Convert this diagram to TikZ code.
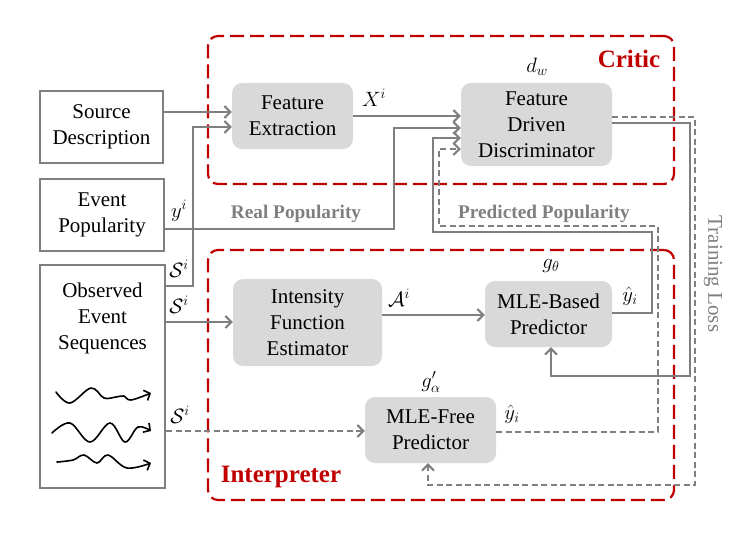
\documentclass[tikz,border=0pt]{standalone}
\usepackage{fontspec}
\setmainfont{Liberation Serif}
\usetikzlibrary{arrows.meta}
\definecolor{critred}{HTML}{C00000}
\definecolor{lgray}{HTML}{7F7F7F}
\definecolor{boxfill}{HTML}{D9D9D9}
\definecolor{labgray}{HTML}{7F7F7F}
\begin{document}
\begin{tikzpicture}[x=1pt,y=-1pt,
  txt/.style={font=\fontsize{21}{26}\selectfont, align=center, inner sep=0pt},
  inbox/.style={txt, draw=lgray, line width=2pt},
  procbox/.style={txt, fill=boxfill, rounded corners=10pt},
  redbox/.style={draw=critred, line width=2.2pt, dash pattern=on 14pt off 6pt, rounded corners=10pt, inner sep=0pt},
  conn/.style={draw=lgray, line width=2pt},
  arr/.style={conn, -{Straight Barb[length=6pt,width=12pt,line width=2pt]}},
  darr/.style={arr, dash pattern=on 6pt off 3.5pt},
  mlab/.style={font=\fontsize{22}{26}\selectfont, inner sep=0pt},
  glab/.style={font=\fontsize{19.3}{22}\selectfont\bfseries, text=labgray, inner sep=0pt},
  rlab/.style={font=\fontsize{25}{28}\selectfont\bfseries, text=critred, inner sep=0pt},
  wave/.style={black, line width=1.6pt, line cap=round, -{Straight Barb[length=5pt,width=11pt,line width=1.6pt]}}
]
\useasboundingbox (0,0) rectangle (751,539);

% group boxes
\node[redbox, minimum width=466pt, minimum height=148pt] (critic) at (441,110) {};
\node[redbox, minimum width=466pt, minimum height=250pt] (interp) at (441,375) {};
\node[rlab] (criticlab) at (629,59) {Critic};
\node[rlab] (interplab) at (281,477) {Interpreter};

% input boxes
\node[inbox, minimum width=123pt, minimum height=72pt] (sd) at (101.5,127) {Source\\Description};
\node[inbox, minimum width=124pt, minimum height=72pt] (ep) at (102,215) {Event\\Popularity};
\node[inbox, minimum width=125pt, minimum height=223pt] (obs) at (102.5,376.5) {};
\node[txt] (obstxt) at (102.5,318) {Observed\\Event\\Sequences};

% processing boxes
\node[procbox, minimum width=121pt, minimum height=66pt] (fe) at (292.5,116) {Feature\\Extraction};
\node[procbox, minimum width=151pt, minimum height=83pt] (fdd) at (536.5,124.5) {Feature\\Driven\\Discriminator};
\node[procbox, minimum width=149pt, minimum height=87pt] (ife) at (307.5,322.5) {Intensity\\Function\\Estimator};
\node[procbox, minimum width=127pt, minimum height=66pt] (mleb) at (548.5,314) {MLE-Based\\Predictor};
\node[procbox, minimum width=131pt, minimum height=66pt] (mlef) at (430.5,430) {MLE-Free\\Predictor};

% waves
\draw[wave] plot[smooth, tension=0.6] coordinates {(56,392) (70,403) (91,388) (104,398) (116,397) (124,396) (131,400) (151,393)};
\draw[wave] plot[smooth, tension=0.6] coordinates {(52,433) (70,423) (90,442) (110,423) (125,442) (138,427) (151,431)};
\draw[wave] plot[smooth, tension=0.6] coordinates {(57,462) (73,460) (84,455) (97,463) (108,455) (127,468) (151,463)};

% connectors
\draw[arr] (sd.east |- 0,112) -- (fe.west |- 0,112);
\draw[arr] (obs.east |- 0,286) -- (193,286) -- (193,127) -- (fe.west |- 0,127);
\draw[arr] (ep.east |- 0,229) -- (394,229) -- (394,128) -- (fdd.west |- 0,128);
\draw[arr] (fe.east |- 0,116) -- (fdd.west |- 0,116);
\draw[arr] (mleb.east |- 0,313) -- (652,313) -- (652,232) -- (433,232) -- (433,138) -- (fdd.west |- 0,138);
\draw[darr] (mlef.east |- 0,432) -- (658,432) -- (658,226) -- (439,226) -- (439,149) -- (fdd.west |- 0,149);
\draw[darr] (fdd.east |- 0,117) -- (695,117) -- (695,485) -- (428,485) -- (mlef.south -| 428,0);
\draw[arr] (fdd.east |- 0,123) -- (690,123) -- (690,376) -- (551,376) -- (mleb.south -| 551,0);
\draw[arr] (ife.east |- 0,315) -- (mleb.west |- 0,315);
\draw[arr] (obs.east |- 0,322) -- (ife.west |- 0,322);
\draw[darr] (obs.east |- 0,431) -- (mlef.west |- 0,431);

% labels
\node[mlab] (lx) at (374,98) {$X^i$};
\node[mlab] (ly) at (179,211) {$y^i$};
\node[mlab] (ls1) at (179,269) {$\mathcal{S}^i$};
\node[mlab] (ls2) at (179,305) {$\mathcal{S}^i$};
\node[mlab] (ls3) at (180,415) {$\mathcal{S}^i$};
\node[mlab] (la) at (399,298) {$\mathcal{A}^i$};
\node[mlab] (ldw) at (537,67) {$d_w$};
\node[mlab] (lgt) at (551,266) {$g_\theta$};
\node[mlab] (lga) at (431,382) {$g'_\alpha$};
\node[mlab] (lyh1) at (630,296) {$\hat{y}_i$};
\node[mlab] (lyh2) at (512,414) {$\hat{y}_i$};
\node[glab] (lreal) at (296,214) {Real Popularity};
\node[glab] (lpred) at (544,214) {Predicted Popularity};
\node[font=\fontsize{21}{26}\selectfont, text=labgray, inner sep=0pt, rotate=-90] (ltl) at (713,274) {Training Loss};
\end{tikzpicture}
\end{document}
